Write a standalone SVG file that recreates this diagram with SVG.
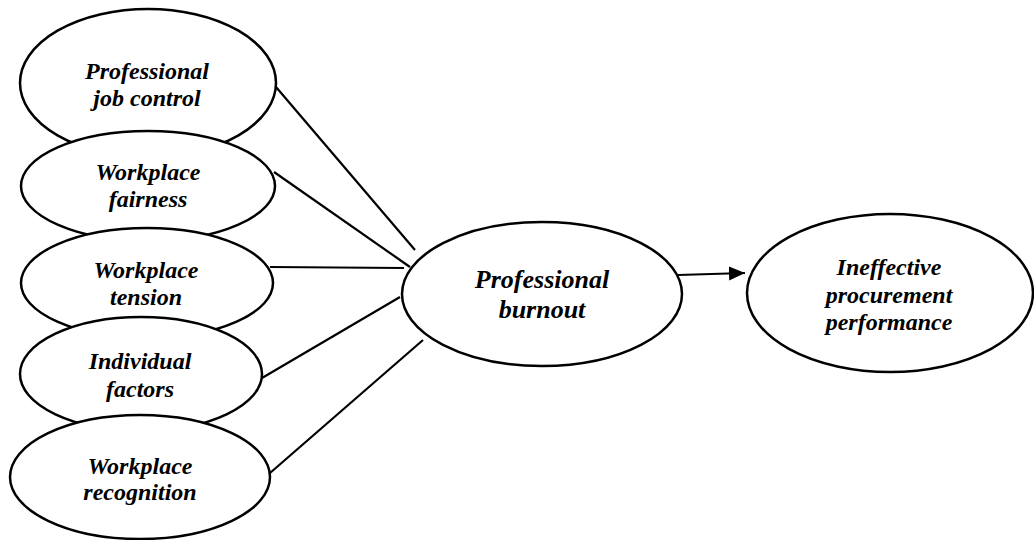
<svg xmlns="http://www.w3.org/2000/svg" width="1034" height="540" viewBox="0 0 1034 540">
<style>
.n{fill:#fff;stroke:#000;stroke-width:2.5}
.t{font-family:"Liberation Serif","Times New Roman",serif;font-weight:bold;font-style:italic;font-size:24px;text-anchor:middle;fill:#000}
.big{font-size:26px}
.c{stroke:#000;stroke-width:2.2;fill:none}
</style>
<defs>
<marker id="ah" markerUnits="userSpaceOnUse" markerWidth="17" markerHeight="15" refX="16" refY="7" orient="auto">
<path d="M0,0 L16,7 L0,14 z" fill="#000"/>
</marker>
</defs>
<rect width="1034" height="540" fill="#fff"/>
<g id="connectors">
<line class="c" x1="276" y1="87" x2="415" y2="250"/>
<line class="c" x1="274" y1="172" x2="410" y2="267"/>
<line class="c" x1="270" y1="267" x2="404" y2="268"/>
<line class="c" x1="262" y1="378" x2="400" y2="297"/>
<line class="c" x1="270" y1="473" x2="423" y2="340"/>
<line class="c" x1="678" y1="275" x2="745" y2="273" marker-end="url(#ah)"/>
</g>
<g id="job-control">
<ellipse class="n" cx="148" cy="83" rx="128" ry="74"/>
<text class="t" x="147" y="79">Professional</text>
<text class="t" x="147" y="106">job control</text>
</g>
<g id="fairness">
<ellipse class="n" cx="148" cy="186" rx="127" ry="55"/>
<text class="t" x="148" y="180">Workplace</text>
<text class="t" x="148" y="207">fairness</text>
</g>
<g id="tension">
<ellipse class="n" cx="147" cy="283" rx="126" ry="55"/>
<text class="t" x="146" y="278">Workplace</text>
<text class="t" x="146" y="305">tension</text>
</g>
<g id="individual">
<ellipse class="n" cx="141" cy="374" rx="121" ry="57"/>
<text class="t" x="140" y="369">Individual</text>
<text class="t" x="140" y="397">factors</text>
</g>
<g id="recognition">
<ellipse class="n" cx="140" cy="477" rx="130" ry="62"/>
<text class="t" x="140" y="474">Workplace</text>
<text class="t" x="140" y="500">recognition</text>
</g>
<g id="burnout">
<ellipse class="n" cx="542" cy="294" rx="140" ry="72"/>
<text class="t big" x="542" y="288">Professional</text>
<text class="t big" x="542" y="318">burnout</text>
</g>
<g id="performance">
<ellipse class="n" cx="890" cy="293" rx="143" ry="79"/>
<text class="t" x="889" y="275">Ineffective</text>
<text class="t" x="889" y="303">procurement</text>
<text class="t" x="889" y="330">performance</text>
</g>
</svg>
